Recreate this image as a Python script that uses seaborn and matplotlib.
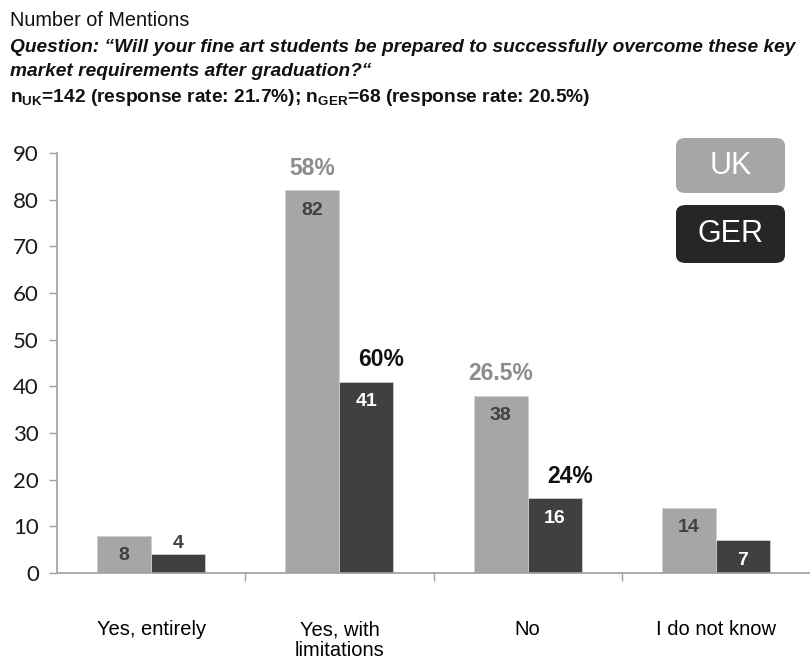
import matplotlib
matplotlib.use("Agg")
import matplotlib.pyplot as plt
from matplotlib.patches import FancyBboxPatch
import seaborn as sns
import pandas as pd

categories = ["Yes, entirely", "Yes, with\nlimitations", "No", "I do not know"]
uk_counts = [8, 82, 38, 14]
ger_counts = [4, 41, 16, 7]
uk_pct = ["", "58%", "26.5%", ""]
ger_pct = ["", "60%", "24%", ""]
countries = ["UK", "GER"]
y_ticks = [0, 10, 20, 30, 40, 50, 60, 70, 80, 90]

sns.set_theme(style="white")
plt.rcParams["font.family"] = ["Liberation Sans", "DejaVu Sans"]
plt.rcParams["mathtext.fontset"] = "custom"
plt.rcParams["mathtext.rm"] = "Liberation Sans"
plt.rcParams["mathtext.bf"] = "Liberation Sans:bold"

df = pd.DataFrame({
    "category": categories * 2,
    "country": ["UK"] * len(categories) + ["GER"] * len(categories),
    "count": uk_counts + ger_counts,
})

UK_COLOR = "#a6a6a6"
GER_COLOR = "#404040"

fig = plt.figure(figsize=(8.10, 6.59), dpi=100)
ax = fig.add_axes([57 / 810, 86 / 659, 1 - 57 / 810, (573 - 153) / 659])

sns.barplot(data=df, x="category", y="count", hue="country", hue_order=countries,
            palette={"UK": UK_COLOR, "GER": GER_COLOR}, width=0.575, gap=0,
            edgecolor="#d0d0d0", linewidth=0.6, legend=False, ax=ax, errorbar=None)

ax.set_xlim(-0.5, 3.5)
ax.set_ylim(0, 90)
ax.set_yticks(y_ticks)
ax.set_yticklabels([str(t) for t in y_ticks], family=["Lato", "DejaVu Sans"])
ax.tick_params(axis="y", labelsize=16, length=6, width=1, color="#a0a0a0",
               direction="out", left=True, labelcolor="#1a1a1a", pad=7)
ax.set_xticks(range(len(categories)))
ax.set_xticklabels(categories, fontsize=14.5, color="#000000",
                   linespacing=1.1, va="top")
ax.tick_params(axis="x", which="major", length=0, pad=34)
ax.set_xticks([0.5, 1.5, 2.5], minor=True)
ax.tick_params(axis="x", which="minor", length=6, width=1, color="#a0a0a0",
               direction="out", bottom=True)
ax.set_xlabel("")
ax.set_ylabel("")
for side in ["top", "right"]:
    ax.spines[side].set_visible(False)
for side in ["left", "bottom"]:
    ax.spines[side].set_color("#a0a0a0")
    ax.spines[side].set_linewidth(1.2)

# value labels and percentage labels
uk_bars = ax.containers[0]
ger_bars = ax.containers[1]
for bar, v, p in zip(uk_bars, uk_counts, uk_pct):
    cx = bar.get_x() + bar.get_width() / 2
    ax.text(cx, v - 4.3, str(v), ha="center", va="center", fontsize=14,
            fontweight="bold", color="#404040")
    if p:
        ax.text(cx, v + 2.3, p, ha="center", va="bottom", fontsize=16.5,
                fontweight="bold", color="#8c8c8c")
for bar, v, p in zip(ger_bars, ger_counts, ger_pct):
    cx = bar.get_x() + bar.get_width() / 2
    if v >= 6:
        ax.text(cx, v - 4.3, str(v), ha="center", va="center", fontsize=14,
                fontweight="bold", color="white")
    else:
        ax.text(cx, v + 0.4, str(v), ha="center", va="bottom", fontsize=14,
                fontweight="bold", color="#404040")
    if p:
        ax.text(cx + 0.08, v + 2.3, p, ha="center", va="bottom", fontsize=16.5,
                fontweight="bold", color="#111111")

# legend boxes
for (y0, h, col, label) in [(138, 55, "#a6a6a6", "UK"), (205, 58, "#262626", "GER")]:
    box = FancyBboxPatch((676 / 810, 1 - (y0 + h) / 659), 109 / 810, h / 659,
                         boxstyle="round,pad=0,rounding_size=0.012",
                         transform=fig.transFigure, facecolor=col,
                         edgecolor="none")
    fig.patches.append(box)
    fig.text((676 + 54.5) / 810, 1 - (y0 + h / 2) / 659, label, ha="center",
             va="center", fontsize=22, color="white")

# header
fig.text(10 / 810, 1 - 20 / 659, "Number of Mentions", fontsize=14.3,
         va="center", ha="left", color="#111111")
fig.text(10 / 810, 1 - 47 / 659,
         "Question: \u201cWill your fine art students be prepared to successfully overcome these key",
         fontsize=13.8, fontstyle="italic", fontweight="bold", va="center",
         ha="left", color="#111111")
fig.text(10 / 810, 1 - 72 / 659, "market requirements after graduation?\u201c",
         fontsize=13.8, fontstyle="italic", fontweight="bold", va="center",
         ha="left", color="#111111")
fig.text(10 / 810, 1 - 97 / 659,
         r"n$_\mathbf{UK}$=142 (response rate: 21.7%); n$_\mathbf{GER}$=68 (response rate: 20.5%)",
         fontsize=13.8, fontweight="bold", va="center", ha="left", color="#111111")

fig.savefig("out.png", dpi=100)
